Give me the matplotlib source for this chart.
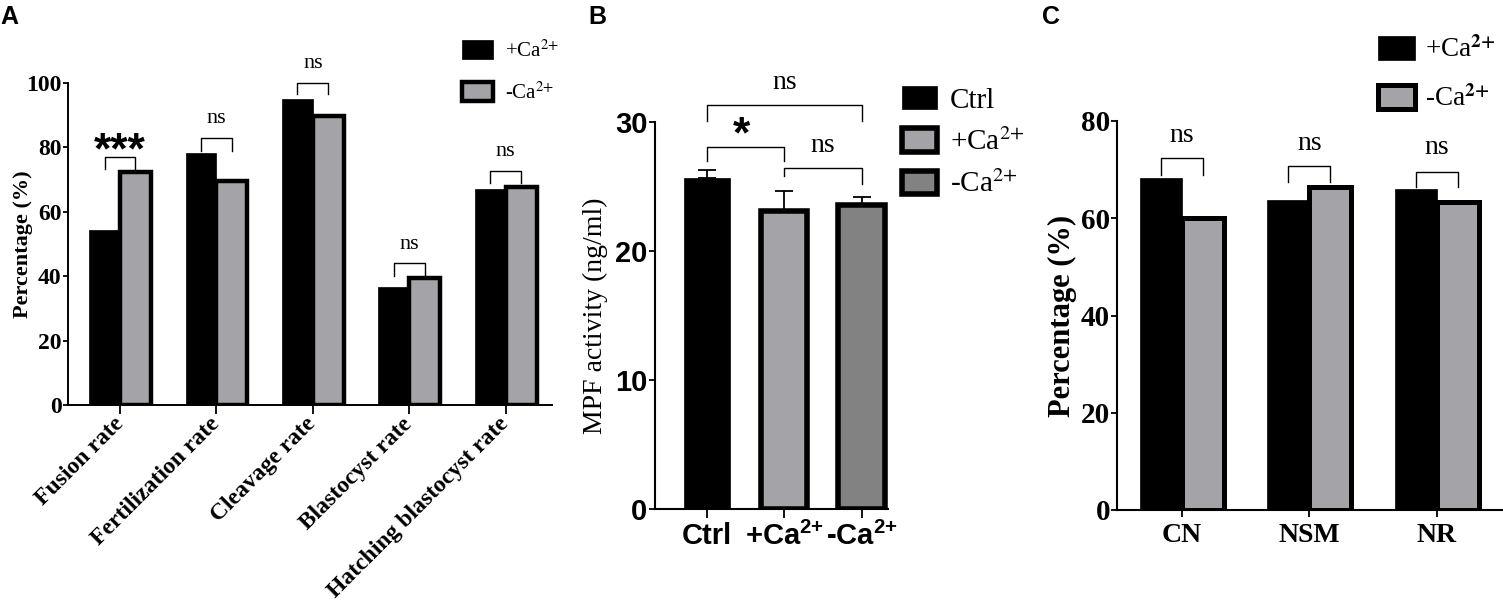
import matplotlib
matplotlib.use("Agg")
import matplotlib.pyplot as plt
import numpy as np
from matplotlib.patches import Patch

plt.rcParams['mathtext.fontset'] = 'custom'
plt.rcParams['mathtext.rm'] = 'Liberation Sans'
plt.rcParams['mathtext.bf'] = 'Liberation Sans:bold'
plt.rcParams['mathtext.it'] = 'Liberation Sans:italic'

SERIF = 'Liberation Serif'
SANS = 'Liberation Sans'

# ---------------- data ----------------
A_categories = ['Fusion rate', 'Fertilization rate', 'Cleavage rate',
                'Blastocyst rate', 'Hatching blastocyst rate']
A_plus = [54.3, 78.2, 95.0, 36.5, 67.2]
A_minus = [72.3, 69.6, 89.7, 39.5, 67.6]
A_sig = ['***', 'ns', 'ns', 'ns', 'ns']
A_br_top = [77.0, 83.0, 100.0, 44.0, 72.7]
A_br_leg = [73.3, 79.0, 96.5, 40.0, 69.0]
A_sig_y = [82.6, 89.0, 106.0, 49.7, 78.6]
A_yticks = [0, 20, 40, 60, 80, 100]
A_legend = ['+Ca$^{2{+}}$', '-Ca$^{2{+}}$']

B_categories = ['Ctrl', '+Ca$^{\\mathbf{2{+}}}$', '-Ca$^{\\mathbf{2{+}}}$']
B_legend = ['Ctrl', '+Ca$^{2{+}}$', '-Ca$^{2{+}}$']
B_values = [25.65, 23.1, 23.6]
B_err = [0.65, 1.55, 0.55]
B_colors = ['black', '#a4a4a8', '#828282']
B_yticks = [0, 10, 20, 30]
# brackets: (from, to, top, left leg, right leg, label, label y)
B_brackets = [(0, 2, 31.3, 30.1, 30.1, 'ns', 33.1),
              (0, 1, 28.1, 27.0, 27.0, '*', 29.9),
              (1, 2, 26.4, 25.8, 25.2, 'ns', 28.2)]

C_categories = ['CN', 'NSM', 'NR']
C_plus = [68.2, 63.7, 66.0]
C_minus = [60.0, 66.5, 63.3]
C_br_top = [72.3, 70.7, 69.6]
C_br_leg = [68.9, 67.5, 66.4]
C_sig_y = [77.0, 75.4, 74.5]
C_yticks = [0, 20, 40, 60, 80]
C_legend = ['+Ca$^{\\mathbf{2{+}}}$', '-Ca$^{\\mathbf{2{+}}}$']

GREY = '#a4a4a8'

W, H = 1503, 600
fig = plt.figure(figsize=(W / 100, H / 100), dpi=100)


def fax(l, t, r, b):
    return fig.add_axes([l / W, 1 - b / H, (r - l) / W, (b - t) / H])


def style_axes(ax, lw=1.4):
    for s in ['top', 'right']:
        ax.spines[s].set_visible(False)
    for s in ['left', 'bottom']:
        ax.spines[s].set_linewidth(lw)


# ---------------- Panel A ----------------
axA = fax(68, 83, 552, 405)
style_axes(axA)
xA = np.arange(len(A_categories))
wA = 0.32
axA.bar(xA - wA / 2, A_plus, wA, color='black', edgecolor='black', linewidth=0.5,
        label=A_legend[0])
axA.bar(xA + wA / 2, A_minus, wA, color=GREY, edgecolor='black', linewidth=3.2,
        label=A_legend[1])
axA.set_xlim(-0.54, 4.48)
axA.set_ylim(0, 100)
axA.set_yticks(A_yticks)
axA.set_yticklabels([str(v) for v in A_yticks], fontfamily=SERIF,
                    fontweight='bold', fontsize=17)
axA.set_xticks(xA)
axA.set_xticklabels(A_categories, rotation=45, ha='right', va='center',
                    rotation_mode='anchor', fontfamily=SERIF, fontweight='bold',
                    fontsize=17)
axA.tick_params(axis='x', length=6.5, width=1.3, pad=5)
axA.tick_params(axis='y', length=3.5, width=1.3, pad=1)
axA.set_ylabel('Percentage (%)', fontfamily=SERIF, fontweight='bold', fontsize=16)
axA.yaxis.set_label_coords(-0.072, 0.5)
for i in range(len(A_categories)):
    x0, x1 = xA[i] - wA / 2, xA[i] + wA / 2
    axA.plot([x0, x0, x1, x1], [A_br_leg[i], A_br_top[i], A_br_top[i], A_br_leg[i]],
             color='black', lw=1.0, clip_on=False)
    if A_sig[i] == '***':
        axA.text((x0 + x1) / 2, A_sig_y[i] - 4.0, A_sig[i], ha='center', va='center',
                 fontfamily=SANS, fontweight='bold', fontsize=32, clip_on=False)
    else:
        axA.text((x0 + x1) / 2, A_sig_y[i], A_sig[i], ha='center', va='center',
                 fontfamily=SERIF, fontsize=16, clip_on=False)
legA = axA.legend(loc='upper left', bbox_to_anchor=(462 / W, 1 - 40 / H),
                  bbox_transform=fig.transFigure, frameon=False,
                  prop={'family': SERIF, 'size': 15}, handlelength=1.5,
                  handleheight=1.05, labelspacing=0.95, handletextpad=0.55,
                  borderpad=0, borderaxespad=0)
for t in legA.get_texts():
    t.set_math_fontfamily('stix')

# ---------------- Panel B ----------------
axB = fax(655, 122, 888, 509)
style_axes(axB, lw=1.5)
xB = np.arange(len(B_categories))
wB = 0.6
axB.bar(xB, B_values, wB, color=B_colors, edgecolor='black', linewidth=[0.5, 4, 4])
axB.errorbar(xB, B_values, yerr=[np.zeros(len(B_err)), B_err], fmt='none',
             ecolor='black', elinewidth=1.3, capsize=6.5, capthick=1.3)
axB.set_xlim(-0.67, 2.34)
axB.set_ylim(0, 30)
axB.set_yticks(B_yticks)
axB.set_yticklabels([str(v) for v in B_yticks], fontfamily=SANS,
                    fontweight='bold', fontsize=21)
axB.set_xticks(xB)
labsB = axB.set_xticklabels(B_categories, fontfamily=SANS, fontweight='bold',
                            fontsize=21)
for t in labsB:
    t.set_math_fontfamily('custom')
axB.tick_params(axis='x', length=6.5, width=1.3, pad=3)
axB.tick_params(axis='y', length=4.5, width=1.3, pad=1)
axB.set_ylabel('MPF activity (ng/ml)', fontfamily=SERIF, fontsize=20)
axB.yaxis.set_label_coords(-0.20, 0.5)
for (i, j, top, ll, rl, lab, ly) in B_brackets:
    axB.plot([xB[i], xB[i], xB[j], xB[j]], [ll, top, top, rl], color='black',
             lw=1.0, clip_on=False)
    if lab == '*':
        axB.text((xB[i] + xB[j]) / 2 - 0.05, ly - 1.0, lab, ha='center', va='center',
                 fontfamily=SANS, fontweight='bold', fontsize=32, clip_on=False)
    else:
        axB.text((xB[i] + xB[j]) / 2, ly, lab, ha='center', va='center',
                 fontfamily=SERIF, fontsize=20, clip_on=False)
handlesB = [Patch(facecolor=c, edgecolor='black', linewidth=lw)
            for c, lw in zip(B_colors, [0.5, 4, 4])]
legB = axB.legend(handlesB, B_legend, loc='upper left',
                  bbox_to_anchor=(902 / W, 1 - 86 / H),
                  bbox_transform=fig.transFigure, frameon=False,
                  prop={'family': SERIF, 'size': 21}, handlelength=1.2,
                  handleheight=0.85, labelspacing=0.5, handletextpad=0.45,
                  borderpad=0, borderaxespad=0)
for t in legB.get_texts():
    t.set_math_fontfamily('stix')

# ---------------- Panel C ----------------
axC = fax(1117, 121, 1503, 510)
style_axes(axC, lw=1.5)
xC = np.arange(len(C_categories))
wC = 0.33
axC.bar(xC - wC / 2, C_plus, wC, color='black', edgecolor='black', linewidth=0.5,
        label=C_legend[0])
axC.bar(xC + wC / 2, C_minus, wC, color=GREY, edgecolor='black', linewidth=3.6,
        label=C_legend[1])
axC.set_xlim(-0.51, 2.52)
axC.set_ylim(0, 80)
axC.set_yticks(C_yticks)
axC.set_yticklabels([str(v) for v in C_yticks], fontfamily=SERIF,
                    fontweight='bold', fontsize=21)
axC.set_xticks(xC)
axC.set_xticklabels(C_categories, fontfamily=SERIF, fontweight='bold', fontsize=20)
axC.tick_params(axis='x', length=5, width=1.3, pad=4)
axC.tick_params(axis='y', length=4, width=1.3, pad=1)
axC.set_ylabel('Percentage (%)', fontfamily=SERIF, fontweight='bold', fontsize=22)
axC.yaxis.set_label_coords(-0.104, 0.5)
for i in range(len(C_categories)):
    x0, x1 = xC[i] - wC / 2, xC[i] + wC / 2
    axC.plot([x0, x0, x1, x1], [C_br_leg[i], C_br_top[i], C_br_top[i], C_br_leg[i]],
             color='black', lw=1.0, clip_on=False)
    axC.text((x0 + x1) / 2, C_sig_y[i], 'ns', ha='center', va='center',
             fontfamily=SERIF, fontsize=20, clip_on=False)
legC = axC.legend(loc='upper left', bbox_to_anchor=(1378 / W, 1 - 36 / H),
                  bbox_transform=fig.transFigure, frameon=False,
                  prop={'family': SERIF, 'size': 19.5}, handlelength=1.35,
                  handleheight=1.0, labelspacing=0.8, handletextpad=0.4,
                  borderpad=0, borderaxespad=0)
for t in legC.get_texts():
    t.set_math_fontfamily('stix')

# panel letters
for lab, px in [('A', 0), ('B', 588), ('C', 1042)]:
    fig.text(px / W, 1 - 5 / H, lab, ha='left', va='top', fontfamily=SANS,
             fontweight='bold', fontsize=18)

fig.savefig('out.png', dpi=100)
